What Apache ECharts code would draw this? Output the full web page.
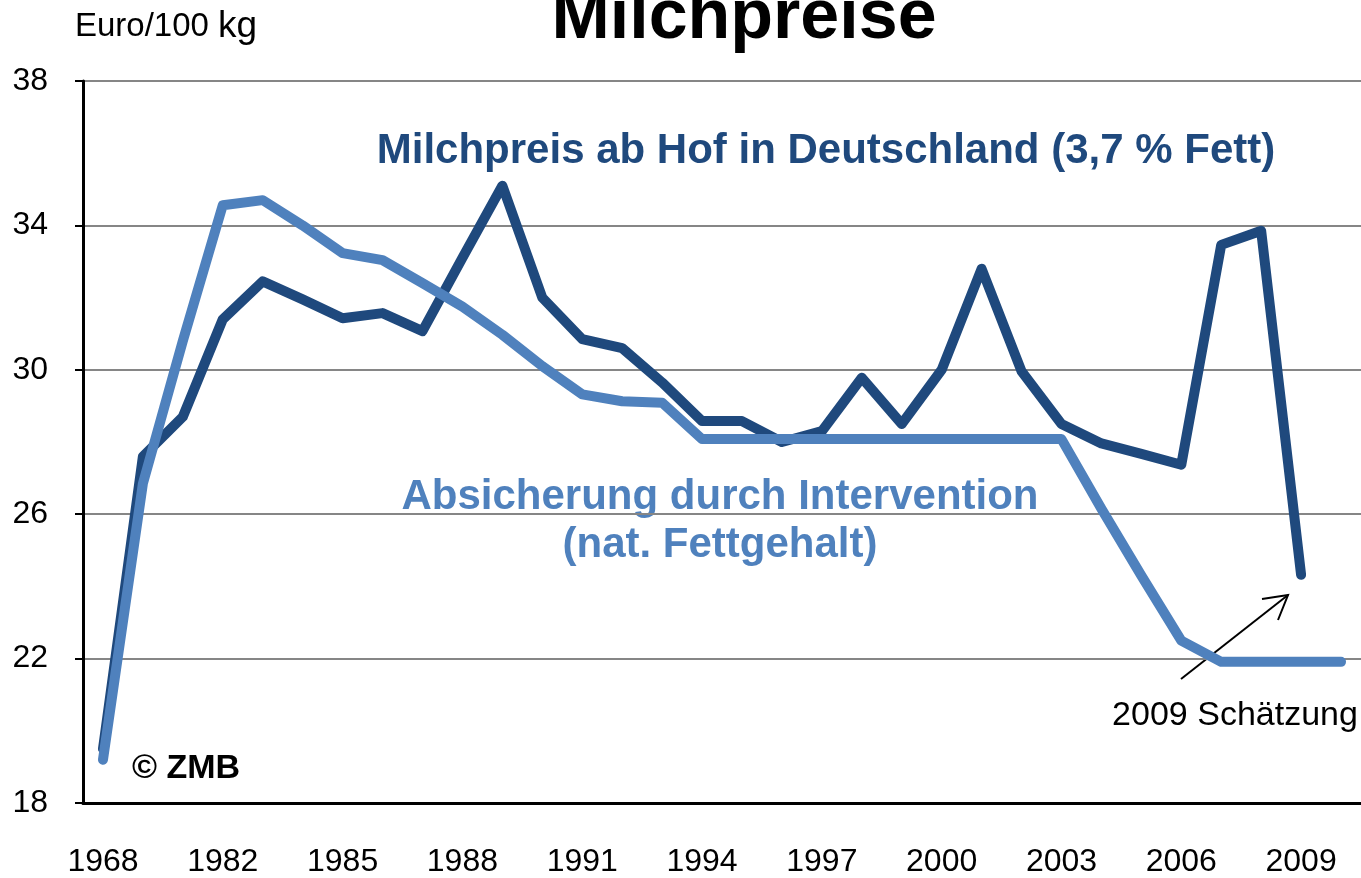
<!DOCTYPE html>
<html>
<head>
<meta charset="utf-8">
<title>Milchpreise</title>
<script src="https://cdn.jsdelivr.net/npm/echarts@6/dist/echarts.min.js"></script>
<style>
  html, body { margin: 0; padding: 0; background: #fff; }
  #main { width: 1361px; height: 878px; }
</style>
</head>
<body>
<div id="main"></div>
<script>
// Jahre (Index 1 und 2 ohne Beschriftung, 2010 rechts abgeschnitten)
var jahre = ['1968', '1975', '1980', '1982', '1983', '1984', '1985', '1986', '1987', '1988',
    '1989', '1990', '1991', '1992', '1993', '1994', '1995', '1996', '1997', '1998',
    '1999', '2000', '2001', '2002', '2003', '2004', '2005', '2006', '2007', '2008',
    '2009', '2010'];

// Milchpreis ab Hof in Deutschland (3,7 % Fett), Euro/100 kg
var milchpreis = [19.5, 27.6, 28.7, 31.4, 32.45, 31.95, 31.43, 31.57, 31.07, 33.1,
    35.1, 32.0, 30.85, 30.6, 29.65, 28.58, 28.58, 28.0, 28.3, 29.78,
    28.5, 30.0, 32.8, 29.96, 28.5, 27.96, 27.67, 27.37, 33.46, 33.85,
    24.32, null];

// Absicherung durch Intervention (nat. Fettgehalt)
var intervention = [19.2, 26.85, 30.8, 34.56, 34.7, 34.0, 33.23, 33.04, 32.4, 31.75,
    30.97, 30.1, 29.32, 29.13, 29.09, 28.08, 28.08, 28.08, 28.08, 28.08,
    28.08, 28.08, 28.08, 28.08, 28.08, 26.15, 24.3, 22.5, 21.91, 21.91,
    21.91, 21.91];

var yTicks = [18, 22, 26, 30, 34, 38];

var dunkel = '#1F497D';
var hell = '#4F81BD';
var schrift = 'Liberation Sans, Arial, sans-serif';

var myChart = echarts.init(document.getElementById('main'));

var option = {
    animation: false,
    backgroundColor: '#fff',
    grid: {
        left: 83,
        top: 81,
        width: 1290,
        height: 725
    },
    xAxis: {
        type: 'category',
        data: jahre,
        boundaryGap: true,
        axisLine: { lineStyle: { color: '#000', width: 3 } },
        axisTick: { show: false },
        axisLabel: {
            interval: 2,
            margin: 43,
            color: '#000',
            fontSize: 32,
            fontFamily: schrift
        }
    },
    yAxis: {
        type: 'value',
        min: yTicks[0],
        max: yTicks[yTicks.length - 1],
        interval: 4,
        axisLine: { show: true, lineStyle: { color: '#000', width: 3 } },
        axisTick: { show: true, length: 8, lineStyle: { color: '#000', width: 2 } },
        axisLabel: {
            margin: 35,
            padding: [12, 0, 0, 0],
            color: '#000',
            fontSize: 32,
            fontFamily: schrift
        },
        splitLine: { lineStyle: { color: '#868686', width: 2 } }
    },
    series: [{
        name: 'Milchpreis ab Hof in Deutschland (3,7 % Fett)',
        type: 'line',
        data: milchpreis,
        showSymbol: false,
        lineStyle: { color: dunkel, width: 10, cap: 'round', join: 'round' }
    }, {
        name: 'Absicherung durch Intervention (nat. Fettgehalt)',
        type: 'line',
        data: intervention,
        showSymbol: false,
        lineStyle: { color: hell, width: 10, cap: 'round', join: 'round' }
    }],
    graphic: [
        // Titel, oben angeschnitten
        {
            type: 'text', x: 744, y: 19,
            style: { text: 'Milchpreise', fill: '#000', font: 'bold 70px ' + schrift, align: 'center', verticalAlign: 'middle' }
        },
        {
            type: 'text', x: 75, y: 27,
            style: {
                text: '{a|Euro/100 }{b|kg}',
                fill: '#000',
                align: 'left',
                verticalAlign: 'middle',
                rich: {
                    a: { fontSize: 33, fontFamily: schrift, fill: '#000' },
                    b: { fontSize: 37, fontFamily: schrift, fill: '#000' }
                }
            }
        },
        {
            type: 'text', x: 826, y: 151,
            style: { text: 'Milchpreis ab Hof in Deutschland (3,7 % Fett)', fill: dunkel, font: 'bold 42px ' + schrift, align: 'center', verticalAlign: 'middle' }
        },
        {
            type: 'text', x: 720, y: 497,
            style: { text: 'Absicherung durch Intervention', fill: hell, font: 'bold 42px ' + schrift, align: 'center', verticalAlign: 'middle' }
        },
        {
            type: 'text', x: 720, y: 545,
            style: { text: '(nat. Fettgehalt)', fill: hell, font: 'bold 42px ' + schrift, align: 'center', verticalAlign: 'middle' }
        },
        {
            type: 'text', x: 132, y: 769,
            style: { text: '\u00A9 ZMB', fill: '#000', font: 'bold 34px ' + schrift, align: 'left', verticalAlign: 'middle' }
        },
        {
            type: 'text', x: 1235, y: 716,
            style: { text: '2009 Schätzung', fill: '#000', font: '34px ' + schrift, align: 'center', verticalAlign: 'middle' }
        },
        // Pfeil zur Schätzung
        {
            type: 'line',
            shape: { x1: 1181, y1: 679, x2: 1288, y2: 595 },
            style: { stroke: '#000', lineWidth: 2 }
        },
        {
            type: 'polyline',
            shape: { points: [[1262, 599], [1288, 595], [1278, 620]] },
            style: { stroke: '#000', lineWidth: 2, fill: null }
        }
    ]
};

myChart.setOption(option);
</script>
</body>
</html>
